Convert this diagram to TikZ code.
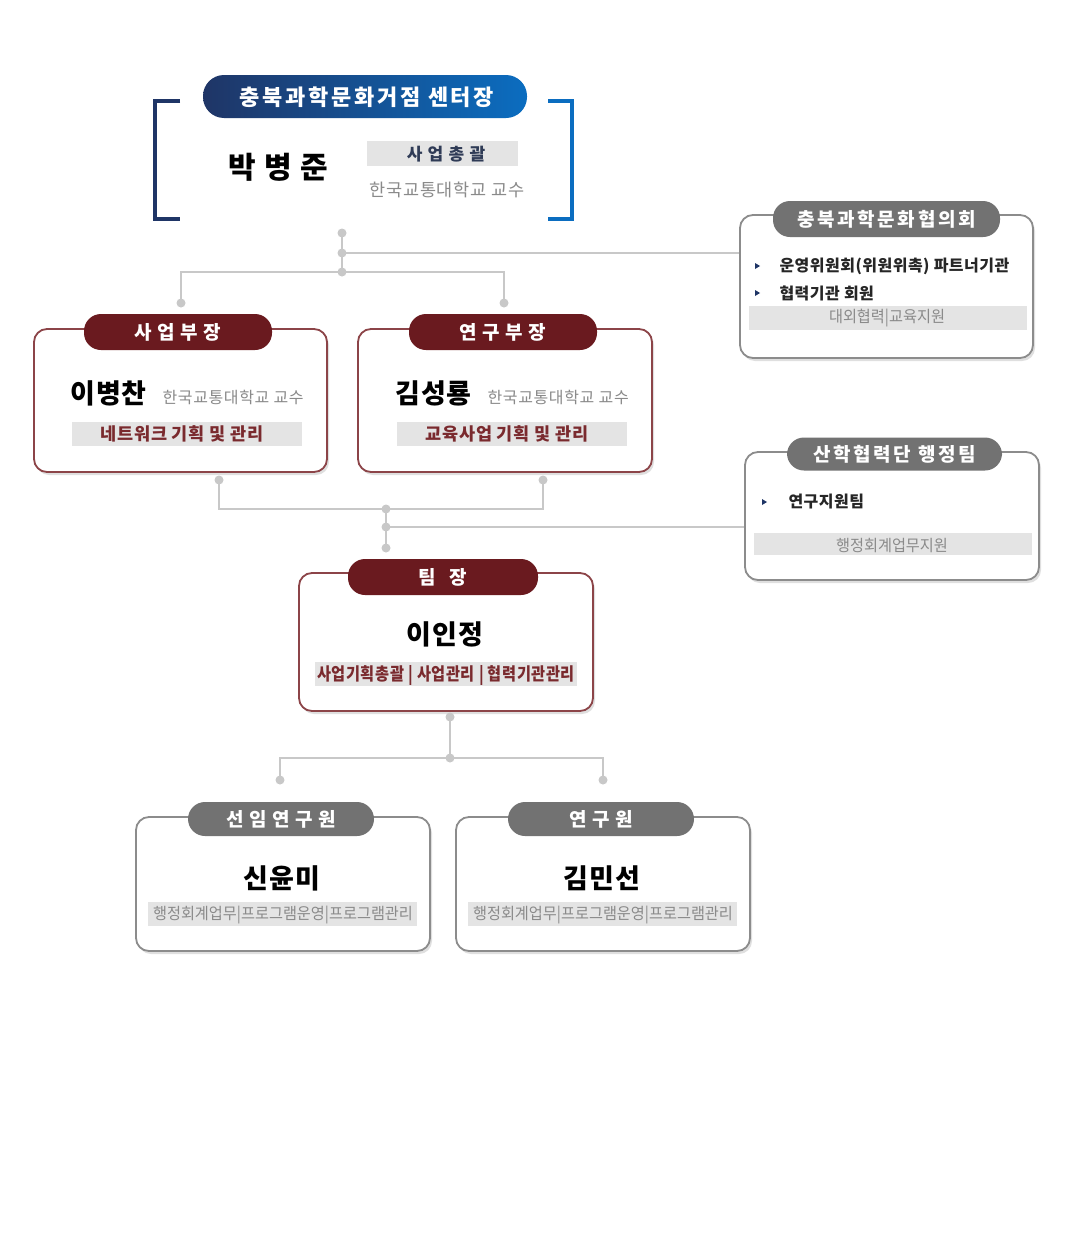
\documentclass[tikz,border=0pt]{standalone}
\usepackage{fontspec}
\usepackage{graphicx}
\setmainfont{Noto Sans CJK KR}
\usetikzlibrary{shadows,calc}
\definecolor{navy}{HTML}{1F3566}
\definecolor{cblue}{HTML}{0B6DC0}
\definecolor{dred}{HTML}{6A1A1F}
\definecolor{bred}{HTML}{8C4448}
\definecolor{tred}{HTML}{7A2A2E}
\definecolor{pgray}{HTML}{727272}
\definecolor{bgray}{HTML}{8C8C8C}
\definecolor{lgray}{HTML}{C8C8C8}
\definecolor{bar}{HTML}{E4E4E4}
\definecolor{tgray}{HTML}{8A8A8A}
\definecolor{ttxt}{HTML}{2F3B56}
\newcommand\lsp[1]{\addfontfeatures{LetterSpace=#1}}
\tikzset{
  card/.style={draw, line width=1.8pt, rounded corners=13pt, fill=white,
    drop shadow={shadow xshift=2pt, shadow yshift=-3pt, opacity=0.25, fill=black!50}},
  redcard/.style={card, draw=bred},
  graycard/.style={card, draw=bgray},
  pill/.style={rounded corners=17pt, text=white, font=\bfseries\fontsize{19}{22}\selectfont\lsp{6}, inner sep=0pt},
  widepill/.style={font=\bfseries\fontsize{19}{22}\selectfont\lsp{14}},
  redpill/.style={pill, fill=dred},
  graypill/.style={pill, fill=pgray},
  conn/.style={draw=lgray, line width=2pt},
  cdot/.style={fill=lgray},
  pname/.style={font=\bfseries\fontsize{27}{30}\selectfont\lsp{3}, text=black},
  prof/.style={font=\fontsize{16}{19}\selectfont\lsp{4}, text=tgray},
  bartxt/.style={font=\bfseries\fontsize{17.5}{20}\selectfont\lsp{4}, text=tred},
  graytxt/.style={font=\fontsize{16}{19}\selectfont, text=tgray},
  itemtxt/.style={font=\bfseries\fontsize{16}{19}\selectfont\lsp{3}, text=black!85},
}
\begin{document}
\begin{tikzpicture}[x=1pt,y=-1pt]
\useasboundingbox (0,0) rectangle (1080,1258);
\fill[white] (0,0) rectangle (1080,1258);

% ---------- top: centre director ----------
\draw[navy, line width=3.5pt] (180,101) -- (155,101) -- (155,219) -- (180,219);
\draw[cblue, line width=3.5pt] (548,101) -- (572,101) -- (572,219) -- (548,219);
\shade[left color=navy, right color=cblue, rounded corners=21pt] (203,75) rectangle (527,118);
\node[font=\bfseries\fontsize{22}{26}\selectfont\lsp{12}, text=white] (toptitle) at (367,97) {충북과학문화거점 센터장};
\node[font=\bfseries\fontsize{30}{34}\selectfont\lsp{5}] (park) at (278,167) {박 병 준};
\fill[bar] (367,141) rectangle (518,166);
\node[font=\bfseries\fontsize{17}{20}\selectfont\lsp{8}, text=ttxt] (chong) at (446,154) {사 업 총 괄};
\node[font=\fontsize{17.5}{20}\selectfont\lsp{4}, text=tgray] (parkprof) at (447,190) {한국교통대학교 교수};

% ---------- cards ----------
\node[redcard, minimum width=293pt, minimum height=143pt] (bz) at (180.5,400.5) {};
\node[redcard, minimum width=294pt, minimum height=143pt] (yg) at (505,400.5) {};
\node[graycard, minimum width=293pt, minimum height=143pt] (hyup) at (886.5,286.5) {};
\node[graycard, minimum width=294pt, minimum height=128pt] (sh) at (892,516) {};
\node[redcard, minimum width=294pt, minimum height=138pt] (tl) at (446,642) {};
\node[graycard, minimum width=294pt, minimum height=134pt] (sr) at (283,884) {};
\node[graycard, minimum width=294pt, minimum height=134pt] (rs) at (603,884) {};

% ---------- pills ----------
\node[redpill, minimum width=188pt, minimum height=36pt] (bzp) at (178,332) {사 업 부 장};
\node[redpill, minimum width=188pt, minimum height=36pt] (ygp) at (503,332) {연 구 부 장};
\node[graypill, widepill, minimum width=227pt, minimum height=36pt] (hyupp) at (886.5,219) {충북과학문화협의회};
\node[graypill, widepill, minimum width=215pt, minimum height=33pt] (shp) at (894.5,454) {산학협력단 행정팀};
\node[redpill, minimum width=190pt, minimum height=36pt] (tlp) at (443,577) {팀\hspace{14pt}장};
\node[graypill, minimum width=186pt, minimum height=34pt] (srp) at (281,819) {선 임 연 구 원};
\node[graypill, minimum width=186pt, minimum height=34pt] (rsp) at (601,819) {연 구 원};

% ---------- 사업부장 ----------
\node[pname, anchor=west] (bzname) at (67,393) {이병찬};
\node[prof, anchor=west] (bzprof) at (159,397) {한국교통대학교 교수};
\fill[bar] (72,422) rectangle (302,446);
\node[bartxt] (bzbar) at (182,434) {네트워크 기획 및 관리};

% ---------- 연구부장 ----------
\node[pname, anchor=west] (ygname) at (392,393) {김성룡};
\node[prof, anchor=west] (ygprof) at (484,397) {한국교통대학교 교수};
\fill[bar] (397,422) rectangle (627,446);
\node[bartxt] (ygbar) at (507,434) {교육사업 기획 및 관리};

% ---------- 협의회 ----------
\fill[navy] (755,263) -- (760,266) -- (755,269) -- cycle;
\fill[navy] (755,290) -- (760,293) -- (755,296) -- cycle;
\node[itemtxt, anchor=west] (h1) at (776,266) {운영위원회(위원위촉) 파트너기관};
\node[itemtxt, anchor=west] (h2) at (776,293) {협력기관 회원};
\fill[bar] (749,306) rectangle (1027,330);
\node[graytxt] (h3) at (887,318) {\scalebox{0.95}[1]{대외협력|교육지원}};

% ---------- 행정팀 ----------
\fill[navy] (762,499) -- (767,502) -- (762,505) -- cycle;
\node[itemtxt, anchor=west] (s1) at (785,502) {연구지원팀};
\fill[bar] (754,533) rectangle (1032,555);
\node[graytxt] (s2) at (892,546) {\scalebox{0.95}[1]{행정회계업무지원}};

% ---------- 팀장 ----------
\node[pname] (tlname) at (445,634) {이인정};
\fill[bar] (315,662) rectangle (577,686);
\node[bartxt] (tlbar) at (446,675) {\scalebox{0.87}[1]{사업기획총괄 | 사업관리 | 협력기관관리}};

% ---------- 선임연구원 / 연구원 ----------
\node[pname] (srname) at (282,878) {신윤미};
\fill[bar] (148,902) rectangle (417,926);
\node[graytxt] (srbar) at (283,915) {\scalebox{0.95}[1]{행정회계업무|프로그램운영|프로그램관리}};
\node[pname] (rsname) at (602,878) {김민선};
\fill[bar] (468,902) rectangle (737,926);
\node[graytxt] (rsbar) at (603,915) {\scalebox{0.95}[1]{행정회계업무|프로그램운영|프로그램관리}};

% ---------- connectors ----------
\coordinate (c1) at (342,233);
\coordinate (c2) at (342,253);
\coordinate (c3) at (342,272);
\coordinate (c4) at (181,303);
\coordinate (c5) at (504,303);
\draw[conn] (c1) -- (c3);
\draw[conn] (c2) -- (c2 -| hyup.west);
\draw[conn] (c4) |- (c3) -| (c5);

\coordinate (m1) at (219,480);
\coordinate (m2) at (543,480);
\coordinate (m3) at (386,509);
\coordinate (m4) at (386,527);
\coordinate (m5) at (386,548);
\draw[conn] (m1) |- (m3) -| (m2);
\draw[conn] (m3) -- (m5);
\draw[conn] (m4) -- (m4 -| sh.west);

\coordinate (l1) at (450,717);
\coordinate (l2) at (450,758);
\coordinate (l3) at (280,780);
\coordinate (l4) at (603,780);
\draw[conn] (l1) -- (l2);
\draw[conn] (l3) |- (l2) -| (l4);

\foreach \p in {c1,c2,c3,c4,c5,m1,m2,m3,m4,m5,l1,l2,l3,l4}
  \fill[cdot] (\p) circle (4.5pt);
\end{tikzpicture}
\end{document}
